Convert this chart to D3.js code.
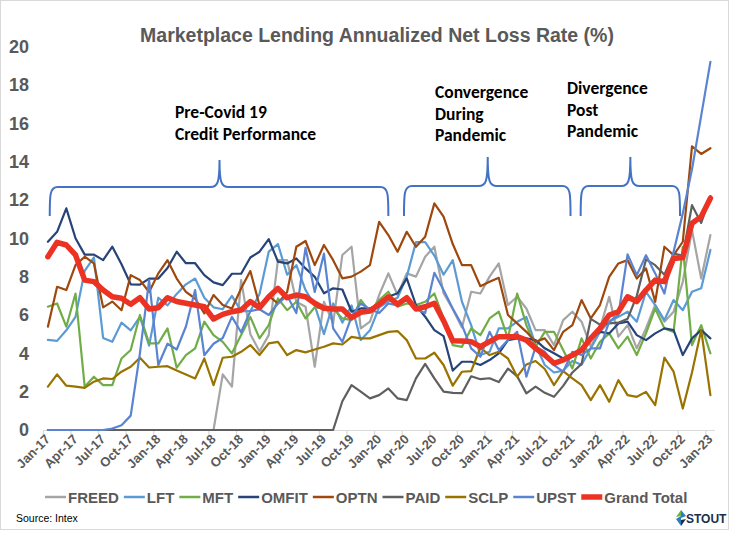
<!DOCTYPE html>
<html>
<head>
<meta charset="utf-8">
<script src="https://cdn.jsdelivr.net/npm/d3@7"></script>
<style>
  html, body { margin: 0; padding: 0; background: #ffffff; }
  svg { display: block; }
</style>
</head>
<body>
<svg id="chart" width="734" height="534"></svg>
<script>
// ---------------- DATA ----------------
const months = [
  "Jan-17","Feb-17","Mar-17","Apr-17","May-17","Jun-17","Jul-17","Aug-17","Sep-17","Oct-17","Nov-17","Dec-17",
  "Jan-18","Feb-18","Mar-18","Apr-18","May-18","Jun-18","Jul-18","Aug-18","Sep-18","Oct-18","Nov-18","Dec-18",
  "Jan-19","Feb-19","Mar-19","Apr-19","May-19","Jun-19","Jul-19","Aug-19","Sep-19","Oct-19","Nov-19","Dec-19",
  "Jan-20","Feb-20","Mar-20","Apr-20","May-20","Jun-20","Jul-20","Aug-20","Sep-20","Oct-20","Nov-20","Dec-20",
  "Jan-21","Feb-21","Mar-21","Apr-21","May-21","Jun-21","Jul-21","Aug-21","Sep-21","Oct-21","Nov-21","Dec-21",
  "Jan-22","Feb-22","Mar-22","Apr-22","May-22","Jun-22","Jul-22","Aug-22","Sep-22","Oct-22","Nov-22","Dec-22",
  "Jan-23"
];
const tickLabels = ["Jan-17","Apr-17","Jul-17","Oct-17","Jan-18","Apr-18","Jul-18","Oct-18","Jan-19","Apr-19","Jul-19","Oct-19",
  "Jan-20","Apr-20","Jul-20","Oct-20","Jan-21","Apr-21","Jul-21","Oct-21","Jan-22","Apr-22","Jul-22","Oct-22","Jan-23"];
const yTicks = [0,2,4,6,8,10,12,14,16,18,20];

const FREED = [0,0,0,0,0,0,0,0,0,0,0,0,0,0,0,0,0,0,0,
  2.9,2.26,7.82,5.0,4.1,4.95,8.86,8.86,6.69,6.43,3.3,6.69,5.56,9.13,9.56,5.3,5.65,
  7.04,8.17,7.04,8.17,8.0,9.04,9.56,7.13,6.3,5.35,7.21,7.12,
  8.0,8.69,6.52,6.95,6.34,5.21,5.21,4.43,5.73,6.17,5.65,4.34,
  5.3,6.95,4.87,5.47,4.26,5.3,6.52,5.65,6.17,7.73,10.43,7.9,10.17];
const LFT = [4.7,4.65,5.2,5.9,8.3,9.0,4.8,4.6,5.6,5.2,5.9,4.4,
  6.9,6.5,7.1,7.6,7.9,6.9,6.4,6.3,7.0,6.2,6.2,7.1,
  9.3,9.7,8.1,8.6,7.3,6.5,5.0,6.6,5.6,6.5,4.7,5.2,
  6.4,6.7,6.9,8.0,9.8,9.8,9.1,8.1,8.86,6.69,5.47,3.91,
  4.08,5.3,5.3,5.65,5.9,4.43,3.39,3.0,3.1,3.6,3.4,4.26,
  5.12,5.65,5.9,6.17,5.65,7.21,6.52,5.73,6.78,6.25,7.21,7.39,9.39];
const MFT = [6.43,6.6,5.39,7.12,2.26,2.78,2.34,2.34,3.73,4.17,6.0,4.52,
  4.52,5.3,3.25,3.91,4.26,5.65,4.95,4.6,4.0,4.95,5.9,4.78,
  5.47,6.86,6.25,6.69,5.82,6.4,6.34,6.34,5.82,5.73,6.78,6.17,
  6.78,7.21,6.43,6.6,6.52,6.69,7.12,5.82,4.43,4.34,5.3,4.95,
  5.82,6.17,4.78,7.12,5.47,4.34,5.12,5.12,4.17,3.21,4.78,3.73,
  4.6,5.04,4.26,4.87,3.91,5.04,6.34,5.3,5.12,9.56,4.43,5.47,4.0];
const OMFIT = [9.82,10.34,11.56,10.0,9.15,9.15,8.86,9.56,8.65,7.6,7.58,7.9,
  7.9,8.45,9.3,8.7,8.7,8.08,7.7,7.56,8.15,8.15,9.0,9.3,
  9.96,8.78,8.69,8.95,8.43,7.99,7.13,7.39,7.33,6.17,6.34,6.34,
  6.57,6.95,7.13,7.91,6.52,5.91,5.21,4.9,3.1,3.56,3.56,3.39,
  3.65,4.0,4.69,4.78,4.78,4.69,4.26,4.0,3.73,3.82,4.1,4.78,
  5.12,5.04,5.56,5.65,4.95,4.69,5.04,5.3,5.21,3.91,4.78,5.21,4.78];
const OPTN = [5.39,7.47,7.3,8.6,9.04,8.69,6.4,6.7,6.25,8.08,7.82,7.2,
  8.17,8.86,7.9,7.21,6.86,6.08,7.04,6.52,6.34,7.39,8.29,6.5,
  7.0,6.6,7.2,9.56,9.86,8.6,9.65,8.86,7.91,8.0,8.26,8.6,
  10.86,10.17,9.3,10.34,9.56,10.08,11.82,11.13,9.7,8.6,8.6,7.5,
  7.73,7.94,6.0,5.56,5.12,4.6,4.78,4.17,5.12,5.47,6.78,5.82,
  6.52,7.99,8.69,8.86,7.9,8.43,6.69,9.56,9.12,9.82,14.8,14.4,14.7];
const PAID = [0,0,0,0,0,0,0,0,0,0,0,0,0,0,0,0,0,0,0,0,0,0,0,0,0,0,0,0,0,0,0,0,
  1.5,2.34,2.0,1.65,1.82,2.17,1.65,1.56,2.69,3.45,2.69,2.0,
  1.94,1.92,2.8,2.65,2.7,2.5,3.2,2.8,1.91,2.26,1.94,1.73,2.3,3.0,3.45,
  5.8,5.5,5.56,5.6,5.8,7.0,8.9,8.6,8.1,9.2,9.1,11.73,10.8,12.2];
const SCLP = [2.26,2.9,2.31,2.26,2.2,2.52,2.69,2.66,3.04,3.3,3.77,3.26,
  3.3,3.33,3.1,2.9,2.69,3.73,2.34,3.77,3.82,4.08,4.43,3.91,
  4.52,4.6,3.91,4.17,4.05,4.2,4.34,4.52,4.46,4.86,4.78,4.78,
  4.95,5.12,5.16,4.69,3.73,3.73,4.03,3.39,2.31,3.04,3.07,4.29,
  3.91,4.08,3.73,2.78,3.42,3.6,3.18,2.34,3.07,2.69,2.34,1.56,
  2.34,1.47,2.6,1.82,1.73,1.99,1.3,3.77,3.04,1.12,3.0,5.21,1.82];
const UPST = [0,0,0,0,0,0,0,0.08,0.25,0.75,4.0,7.82,
  3.39,4.5,4.2,5.4,7.3,3.9,4.5,4.8,5.9,5.1,6.2,6.3,
  6.0,6.6,7.0,6.1,9.5,7.2,9.2,5.3,4.6,5.9,6.6,6.3,
  6.1,6.6,6.5,6.8,6.3,6.1,8.2,7.3,6.34,5.47,4.26,3.82,
  5.12,4.17,4.69,5.12,2.78,4.34,4.08,3.39,3.04,4.08,3.91,4.26,
  4.26,5.65,6.0,9.16,8.08,9.12,8.17,7.12,9.3,11.3,13.6,16.4,19.2];
const GrandTotal = [9.04,9.79,9.65,9.13,7.82,7.74,7.30,6.95,6.87,6.56,6.90,6.31,
  6.38,6.90,6.70,6.61,6.52,6.43,5.79,6.03,6.17,6.26,6.70,6.38,
  6.95,7.39,6.90,7.04,6.95,6.61,6.35,6.31,6.31,5.86,6.14,6.21,
  6.56,6.95,6.56,6.90,6.31,6.43,6.61,5.7,4.65,4.64,4.61,4.35,
  4.61,4.87,4.87,4.87,4.69,4.26,3.91,3.48,3.65,3.91,4.17,4.78,
  5.30,6.0,6.17,6.95,6.70,7.30,7.82,7.74,8.95,9.0,10.78,11.13,12.09];

const seriesNames = ["FREED","LFT","MFT","OMFIT","OPTN","PAID","SCLP","UPST","Grand Total"];
const seriesValues = [FREED, LFT, MFT, OMFIT, OPTN, PAID, SCLP, UPST, GrandTotal];
const seriesColors = ["#A5A5A5","#5B9BD5","#70AD47","#264478","#9E480E","#5F5F5F","#997300","#5A84D2","#EC3223"];

const annotations = [
  {lines:["Pre-Covid 19","Credit Performance"], x:175, y:112},
  {lines:["Convergence","During","Pandemic"], x:435, y:92},
  {lines:["Divergence","Post","Pandemic"], x:567, y:88}
];
// brace spans as month indices (start, center, end)
const braces = [
  {a:0.2, c:18.65, b:37.0, top:187, peak:160},
  {a:38.7, c:47.8, b:56.8, top:186, peak:157},
  {a:57.9, c:63.3, b:68.7, top:186, peak:157}
];

// ---------------- CHART ----------------
const svg = d3.select("#chart");
const grey = "#595959";

svg.append("rect").attr("x",0.5).attr("y",0.5).attr("width",728).attr("height",529)
  .attr("fill","#fff").attr("stroke","#D9D9D9").attr("stroke-width",1);

const x = d3.scaleBand().domain(d3.range(months.length)).range([43.3, 715]).padding(0);
const xc = i => x(i) + x.bandwidth()/2;
const y = d3.scaleLinear().domain([0,20]).range([430, 46.6]);

// title
svg.append("text").attr("x", 377).attr("y", 42)
  .attr("text-anchor","middle")
  .attr("font-family","'Liberation Sans', Arial, sans-serif")
  .attr("font-weight","bold").attr("font-size", 19.5)
  .attr("fill", grey)
  .text("Marketplace Lending Annualized Net Loss Rate (%)");

// y axis labels
const yAxis = d3.axisLeft(y).tickValues(yTicks).tickSize(0).tickPadding(0);
const gy = svg.append("g").attr("transform","translate(29,0)").call(yAxis);
gy.select(".domain").remove();
gy.selectAll("text").attr("font-family","'Liberation Sans', Arial, sans-serif")
  .attr("font-weight","bold").attr("font-size",18).attr("fill",grey);

// x axis
const tickIdx = months.map((m,i)=>i).filter(i => tickLabels.includes(months[i]));
svg.append("line").attr("x1",43.3).attr("x2",715).attr("y1",430.5).attr("y2",430.5)
  .attr("stroke","#D9D9D9").attr("stroke-width",1.2);
svg.append("g").selectAll("line").data(tickIdx).join("line")
  .attr("x1", i => x(i)).attr("x2", i => x(i))
  .attr("y1",430).attr("y2",435).attr("stroke","#D9D9D9").attr("stroke-width",1.2);
svg.append("g").selectAll("text").data(tickIdx).join("text")
  .attr("transform", i => `translate(${xc(i)+3},${440}) rotate(-45)`)
  .attr("text-anchor","end")
  .attr("font-family","'Liberation Sans', Arial, sans-serif")
  .attr("font-weight","bold").attr("font-size",13).attr("fill",grey)
  .text(i => months[i]);

// lines
const line = d3.line().x((d,i)=>xc(i)).y(d=>y(d));
const gl = svg.append("g");
seriesValues.forEach((vals, k) => {
  gl.append("path").datum(vals).attr("d", line)
    .attr("fill","none").attr("stroke", seriesColors[k])
    .attr("stroke-width", k === 8 ? 5.5 : 2.2)
    .attr("stroke-linejoin","round").attr("stroke-linecap","round");
});

// braces
const braceColor = "#4472C4";
braces.forEach(b => {
  const x0 = xc(0) + (b.a)*x.bandwidth(), x1 = xc(0) + b.b*x.bandwidth(), c = xc(0) + b.c*x.bandwidth();
  const t = b.top, bot = 216, p = b.peak;
  const d = `M${x0},${bot} C${x0},${t+8} ${x0},${t} ${x0+8},${t} L${c-9},${t} C${c-2},${t} ${c},${t-4} ${c},${p} ` +
            `C${c},${t-4} ${c+2},${t} ${c+9},${t} L${x1-8},${t} C${x1},${t} ${x1},${t+8} ${x1},${bot}`;
  svg.append("path").attr("d", d).attr("fill","none").attr("stroke",braceColor).attr("stroke-width",2);
});

// annotation text
annotations.forEach(a => {
  const t = svg.append("text").attr("font-family","Carlito, Lato, 'Open Sans', sans-serif")
    .attr("font-weight","bold").attr("font-size",17.5).attr("fill","#000");
  a.lines.forEach((ln, j) => {
    t.append("tspan").attr("x", a.x).attr("y", a.y + 6 + j*21.5).text(ln);
  });
});

// legend
let lx = 45;
const ly = 497;
seriesNames.forEach((n, k) => {
  svg.append("line").attr("x1", lx).attr("x2", lx+21).attr("y1", ly).attr("y2", ly)
    .attr("stroke", seriesColors[k]).attr("stroke-width", k===8 ? 5.5 : 2.5);
  const t = svg.append("text").attr("x", lx+23).attr("y", ly+5.5)
    .attr("font-family","'Liberation Sans', Arial, sans-serif")
    .attr("font-weight","bold").attr("font-size",15).attr("fill",grey).text(n);
  lx = lx + 23 + t.node().getComputedTextLength() + 5;
});

// source
svg.append("text").attr("x",16).attr("y",522)
  .attr("font-family","'Liberation Sans', Arial, sans-serif")
  .attr("font-size",10.5).attr("fill","#000").text("Source: Intex");

// logo
const lg = svg.append("g").attr("transform","translate(681,518)");
lg.append("path").attr("d","M0,-8 L5,-2 L0,0 Z").attr("fill","#2A7FC1");
lg.append("path").attr("d","M0,-2 L-5,1 L0,8 Z").attr("fill","#2A7FC1");
lg.append("path").attr("d","M-5,-1 L0,-8 L0,-2 Z").attr("fill","#6FB43F");
lg.append("path").attr("d","M5,1 L0,8 L0,2 Z").attr("fill","#1B2E4F");
svg.append("text").attr("x",686).attr("y",523)
  .attr("font-family","'Liberation Sans', Arial, sans-serif")
  .attr("font-weight","bold").attr("font-size",12).attr("fill","#1B2E4F").text("STOUT");
</script>
</body>
</html>
